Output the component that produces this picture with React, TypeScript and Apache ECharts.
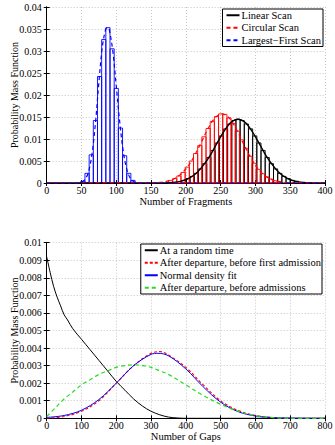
import React, { useEffect, useRef } from "react";
import * as echarts from "echarts";

// ---------- Upper panel: fragment count distributions ----------
const fragTicksMax = 400;

// Histogram bins (bin centre, probability mass)
const linearBinX = [197, 203, 209, 215, 221, 227, 233, 239, 245, 251, 257, 263, 269, 275, 281, 287, 293, 299, 305, 311, 317, 323, 329, 335, 341, 347, 353, 359];
const linearBinPmf = [0.0006, 0.001, 0.0015, 0.0022, 0.0032, 0.0044, 0.0058, 0.0074, 0.0091, 0.0107, 0.0123, 0.0134, 0.0142, 0.0145, 0.0142, 0.0134, 0.0123, 0.0107, 0.0091, 0.0074, 0.0058, 0.0044, 0.0032, 0.0022, 0.0015, 0.001, 0.0006, 0.0004];

const circularBinX = [178, 184, 190, 196, 202, 208, 214, 220, 226, 232, 238, 244, 250, 256, 262, 268, 274, 280, 286, 292, 298, 304, 310, 316, 322, 328, 334];
const circularBinPmf = [0.0006, 0.001, 0.0016, 0.0024, 0.0036, 0.005, 0.0067, 0.0085, 0.0105, 0.0124, 0.014, 0.0151, 0.0157, 0.0156, 0.0148, 0.0135, 0.0118, 0.0098, 0.0079, 0.0061, 0.0045, 0.0031, 0.0021, 0.0014, 0.0009, 0.0005, 0.0003];

const largestBinX = [52, 58, 64, 70, 76, 82, 88, 94, 100, 106, 112, 118, 124];
const largestBinPmf = [0.0004, 0.0022, 0.0064, 0.0142, 0.0242, 0.0326, 0.0353, 0.0305, 0.0215, 0.0125, 0.0062, 0.0022, 0.0006];

// Fitted curves
const linearCurveX = [0, 165, 175, 185, 195, 205, 215, 225, 235, 245, 255, 265, 275, 285, 295, 305, 315, 325, 335, 345, 355, 365, 375, 385, 400];
const linearCurveY = [0, 0.00003, 0.00008, 0.0002, 0.0005, 0.0011, 0.0022, 0.004, 0.0063, 0.0091, 0.0118, 0.0138, 0.0145, 0.0138, 0.0118, 0.0091, 0.0063, 0.004, 0.0022, 0.0011, 0.0005, 0.0002, 0.00008, 0.00003, 0];

const circularCurveX = [0, 152, 162, 172, 182, 192, 202, 212, 222, 232, 242, 252, 262, 272, 282, 292, 302, 312, 322, 332, 342, 352, 400];
const circularCurveY = [0, 0.00004, 0.00013, 0.00035, 0.00085, 0.0019, 0.0036, 0.0061, 0.0092, 0.0124, 0.0148, 0.0157, 0.0148, 0.0124, 0.0092, 0.0061, 0.0036, 0.0019, 0.00085, 0.00035, 0.00013, 0.00004, 0];

const largestCurveX = [0, 40, 45, 50, 55, 60, 65, 70, 75, 80, 85, 88, 90, 95, 100, 105, 110, 115, 120, 125, 130, 135, 400];
const largestCurveY = [0, 0, 0.00005, 0.0002, 0.0008, 0.0025, 0.0065, 0.0135, 0.0228, 0.031, 0.035, 0.0353, 0.0348, 0.03, 0.022, 0.0138, 0.0072, 0.0032, 0.0011, 0.0003, 0.0001, 0, 0];

// ---------- Lower panel: gap count distributions ----------
const gapsMax = 800;

const randomTimeX = [0, 10, 20, 30, 40, 50, 60, 75, 100, 125, 150, 175, 200, 225, 250, 275, 300, 325, 350, 375, 400, 800];
const randomTimeY = [0.0092, 0.0083, 0.0075, 0.0069, 0.0064, 0.0059, 0.0056, 0.0051, 0.0045, 0.0039, 0.0033, 0.0027, 0.0021, 0.0016, 0.0011, 0.0007, 0.0004, 0.0002, 0.00007, 0.00002, 0, 0];

const firstAdmissionX = [0, 50, 100, 150, 200, 250, 300, 325, 350, 400, 450, 500, 550, 600, 650, 700, 800];
const firstAdmissionY = [0, 0.0001, 0.0004, 0.001, 0.002, 0.003, 0.0037, 0.0038, 0.0036, 0.0029, 0.0019, 0.001, 0.00045, 0.00016, 0.00004, 0, 0];

const normalFitX = [0, 50, 100, 150, 200, 250, 300, 320, 350, 400, 450, 500, 550, 600, 650, 700, 800];
const normalFitY = [0.00005, 0.00016, 0.00046, 0.00107, 0.002, 0.003, 0.00364, 0.0037, 0.00356, 0.00281, 0.00179, 0.00092, 0.00038, 0.00013, 0.00004, 0.00001, 0];

const admissionsX = [0, 25, 50, 75, 100, 125, 150, 175, 200, 225, 250, 275, 300, 325, 350, 400, 450, 500, 550, 600, 650, 700, 800];
const admissionsY = [0.0001, 0.0006, 0.0011, 0.0015, 0.0019, 0.0022, 0.0025, 0.0027, 0.0029, 0.003, 0.00305, 0.003, 0.0029, 0.0027, 0.0025, 0.0019, 0.0013, 0.0008, 0.0004, 0.00015, 0.00004, 0, 0];

const FONT = '"Liberation Serif", "Times New Roman", serif';
const BIN_WIDTH = 6;

const pairs = (xs: number[], ys: number[]) => xs.map((x, i) => [x, ys[i]]);

function barSeries(name: string, xs: number[], ys: number[], color: string) {
  return {
    name,
    type: "custom",
    xAxisIndex: 0,
    yAxisIndex: 0,
    silent: true,
    z: 2,
    encode: { x: 0, y: 1 },
    data: pairs(xs, ys),
    renderItem: (_params: any, api: any) => {
      const x = api.value(0);
      const y = api.value(1);
      const p1 = api.coord([x - BIN_WIDTH / 2, y]);
      const p2 = api.coord([x + BIN_WIDTH / 2, 0]);
      return {
        type: "rect",
        shape: { x: p1[0], y: p1[1], width: p2[0] - p1[0], height: p2[1] - p1[1] },
        style: { fill: "none", stroke: color, lineWidth: 0.9 },
      };
    },
  };
}

function lineSeries(name: string, xs: number[], ys: number[], color: string, type: any, width: number, axis: number) {
  return {
    name,
    type: "line",
    xAxisIndex: axis === 0 ? 0 : 2,
    yAxisIndex: axis === 0 ? 0 : 2,
    data: pairs(xs, ys),
    showSymbol: false,
    symbol: "none",
    smooth: 0.35,
    silent: true,
    z: 3,
    itemStyle: { color },
    lineStyle: { color, width, type },
  };
}

const tickLabel = { color: "#000", fontFamily: FONT, fontSize: 10 };

function xAxes(gridIndex: number, max: number, interval: number, name: string) {
  return [
    {
      gridIndex,
      type: "value",
      min: 0,
      max,
      interval,
      name,
      nameLocation: "middle",
      nameGap: 12.5,
      nameMoveOverlap: false,
      nameTextStyle: { color: "#000", fontFamily: FONT, fontSize: 10.5, lineHeight: 11, verticalAlign: "top" },
      axisLine: { show: true, lineStyle: { color: "#000", width: 1 } },
      axisTick: { show: true, inside: true, length: 3, lineStyle: { color: "#000" } },
      axisLabel: { ...tickLabel, margin: 2, lineHeight: 10 },
      splitLine: { show: true, lineStyle: { color: "#b8b8b8", type: [1, 2], width: 0.8 } },
    },
    {
      gridIndex,
      type: "value",
      position: "top",
      min: 0,
      max,
      interval,
      axisLine: { show: true, lineStyle: { color: "#000", width: 1 } },
      axisTick: { show: true, inside: true, length: 3, lineStyle: { color: "#000" } },
      axisLabel: { show: false },
      splitLine: { show: false },
    },
  ];
}

function yAxes(gridIndex: number, max: number, interval: number) {
  return [
    {
      gridIndex,
      type: "value",
      min: 0,
      max,
      interval,
      name: "Probability Mass Function",
      nameLocation: "middle",
      nameGap: 27,
      nameMoveOverlap: false,
      nameTextStyle: { color: "#000", fontFamily: FONT, fontSize: 10 },
      axisLine: { show: true, lineStyle: { color: "#000", width: 1 } },
      axisTick: { show: true, inside: true, length: 3, lineStyle: { color: "#000" } },
      axisLabel: {
        ...tickLabel,
        margin: 5,
        formatter: (v: number) => (v === 0 ? "0" : String(+v.toFixed(4))),
      },
      splitLine: { show: true, lineStyle: { color: "#b8b8b8", type: [1, 2], width: 0.8 } },
    },
    {
      gridIndex,
      type: "value",
      position: "right",
      min: 0,
      max,
      interval,
      axisLine: { show: true, lineStyle: { color: "#000", width: 1 } },
      axisTick: { show: true, inside: true, length: 3, lineStyle: { color: "#000" } },
      axisLabel: { show: false },
      splitLine: { show: false },
    },
  ];
}

const legendBase = {
  orient: "vertical",
  backgroundColor: "#fff",
  borderColor: "#000",
  borderWidth: 1,
  borderRadius: 0,
  itemWidth: 13,
  itemHeight: 8,
  itemGap: 0,
  selectedMode: false,
  itemStyle: { color: "rgba(0,0,0,0)", borderWidth: 0, opacity: 0 },
  textStyle: { color: "#000", fontFamily: FONT, fontSize: 10.5, lineHeight: 12.5, padding: [0, 0, 0, -3] },
};

export default function App() {
  const ref = useRef<HTMLDivElement>(null);

  useEffect(() => {
    if (!ref.current) return;
    const chart = echarts.init(ref.current, undefined, { renderer: "svg" });
    chart.setOption({
      animation: false,
      backgroundColor: "#fff",
      grid: [
        { left: 46.7, right: 10, top: 7, height: 176, outerBoundsMode: "none" },
        { left: 46.7, right: 10, top: 242.7, height: 175.6, outerBoundsMode: "none" },
      ],
      xAxis: [
        ...xAxes(0, fragTicksMax, 50, "Number of Fragments"),
        ...xAxes(1, gapsMax, 100, "Number of Gaps"),
      ],
      yAxis: [...yAxes(0, 0.04, 0.005), ...yAxes(1, 0.01, 0.001)],
      legend: [
        {
          ...legendBase,
          right: 12,
          top: 9,
          padding: [0, 2, 0, 3],
          data: ["Linear Scan", "Circular Scan", "Largest\u2212First Scan"],
        },
        {
          ...legendBase,
          right: 13,
          top: 244,
          padding: [0, 1, 0, 3],
          data: [
            "At a random time",
            "After departure, before first admission",
            "Normal density fit",
            "After departure, before admissions",
          ],
        },
      ],
      series: [
        barSeries("linearBins", linearBinX, linearBinPmf, "#000000"),
        barSeries("circularBins", circularBinX, circularBinPmf, "#ff0000"),
        barSeries("largestBins", largestBinX, largestBinPmf, "#0000ff"),
        lineSeries("Linear Scan", linearCurveX, linearCurveY, "#000000", "solid", 1.4, 0),
        lineSeries("Circular Scan", circularCurveX, circularCurveY, "#ff0000", [4, 3], 1.2, 0),
        lineSeries("Largest\u2212First Scan", largestCurveX, largestCurveY, "#0000ff", [4, 3], 1.2, 0),
        lineSeries("At a random time", randomTimeX, randomTimeY, "#000000", "solid", 1, 1),
        lineSeries("After departure, before first admission", firstAdmissionX, firstAdmissionY, "#ff0000", [3, 2], 1.1, 1),
        lineSeries("Normal density fit", normalFitX, normalFitY, "#0000ff", "solid", 1, 1),
        lineSeries("After departure, before admissions", admissionsX, admissionsY, "#22dd22", [4, 3], 1.2, 1),
      ],
    });
    return () => chart.dispose();
  }, []);

  return (
    <div
      ref={ref}
      style={{ position: "fixed", left: 0, top: 0, width: 335, height: 445, background: "#fff" }}
    />
  );
}
